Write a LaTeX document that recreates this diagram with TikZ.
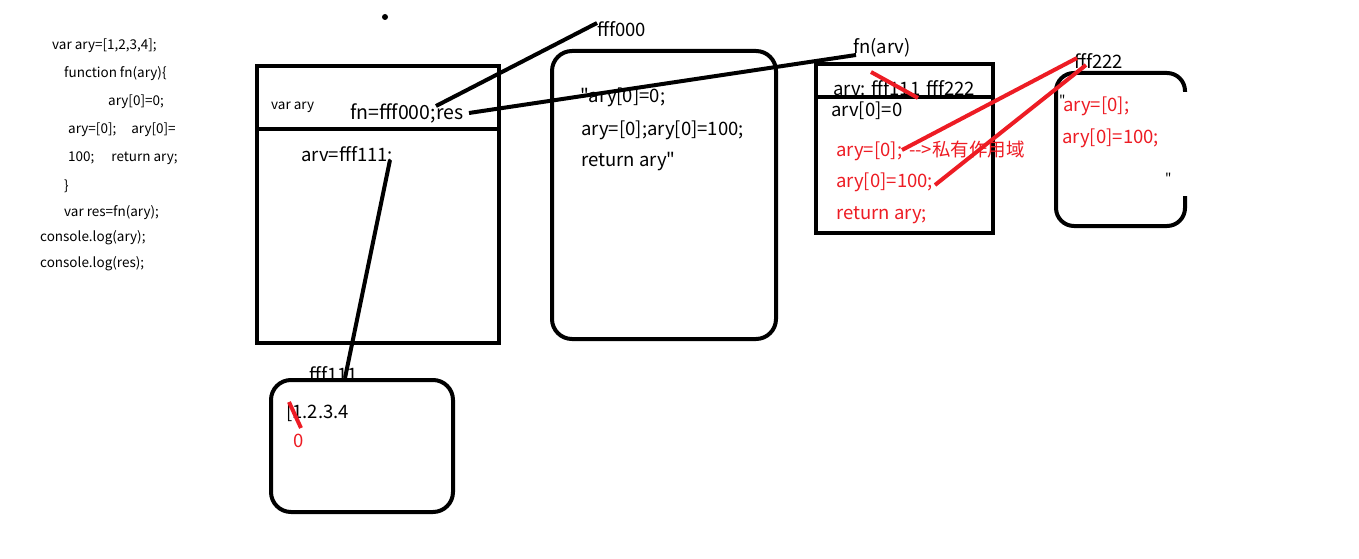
\documentclass[tikz,border=0pt]{standalone}
\usepackage{fontspec}
\setmainfont{Noto Sans CJK SC}[Ligatures=TeXOff]
\definecolor{pred}{RGB}{237,28,36}
\begin{document}
\begin{tikzpicture}[x=1pt,y=-1pt,
  code/.style={anchor=west, inner sep=0pt, font=\fontsize{13.5}{15}\selectfont},
  lbl/.style={anchor=west, inner sep=0pt, font=\fontsize{18.5}{21}\selectfont},
  rlbl/.style={lbl, text=pred},
  boxr/.style={draw, line width=4pt, inner sep=0pt},
  rbox/.style={boxr, rounded corners=20pt},
  conn/.style={line width=4pt},
  rconn/.style={line width=4pt, draw=pred}]
\useasboundingbox (0,0) rectangle (1359,559);
% code listing
\node[code] (l1) at (52,46) {var ary=[1,2,3,4];};
\node[code] (l2) at (64,74) {function fn(ary)\{};
\node[code] (l3) at (108,102) {ary[0]=0;};
\node[code] (l4) at (68,130) {ary=[0];\hspace{15pt}ary[0]=};
\node[code] (l5) at (68,158) {100;\hspace{17pt}return ary;};
\node[code] (l6) at (64,186) {\}};
\node[code] (l7) at (64,213) {var res=fn(ary);};
\node[code] (l8) at (40,238) {console.log(ary);};
\node[code] (l9) at (40,264) {console.log(res);};
% dot
\fill (385,17) circle (3pt);
% box 1
\node[boxr, minimum width=242pt, minimum height=277pt] (b1) at (378,204.5) {};
\draw[line width=4pt] (257,129) -- (499,129);
\node[code] (t1a) at (271,107) {var ary};
\node[lbl, font=\fontsize{19.5}{22}\selectfont] (t1b) at (350,113) {fn=fff000;res};
\node[lbl] (t1c) at (301,154) {arv=fff111:};
% box 2
\node[rbox, minimum width=224pt, minimum height=288pt] (b2) at (664,195) {};
\node[lbl] (t2l) at (597,29) {fff000};
\node[lbl] (t2a) at (580,97) {"ary[0]=0;};
\node[lbl] (t2b) at (581,130) {ary=[0];ary[0]=100;};
\node[lbl] (t2c) at (581,162) {return ary"};
% box 3
\node[lbl] (t3l) at (853,48) {fn(arv)};
\node[lbl] (t3a) at (833,88) {arv: fff111\hspace{6pt}fff222};
\node[boxr, minimum width=177pt, minimum height=169pt] (b3) at (904.5,148.5) {};
\draw[line width=4pt] (816,97) -- (993,97);
\node[lbl] (t3b) at (831,111) {arv[0]=0};
\node[rlbl] (t3c) at (836,151) {ary=[0];\hspace{7pt}-->私有作用域};
\node[rlbl] (t3d) at (836,182) {ary[0]=100;};
\node[rlbl] (t3e) at (836,215) {return ary;};
% box 4
\node[inner sep=0pt, minimum width=129pt, minimum height=153pt] (b4) at (1120.5,149.5) {};
\draw[line width=4pt, rounded corners=18pt] (1185,92) -- (1185,73) -- (1056,73) -- (1056,226) -- (1185,226) -- (1185,196);
\node[lbl] (t4l) at (1074,61) {fff222};
\node[rlbl] (t4a) at (1063,106) {ary=[0];};
\node[rlbl] (t4b) at (1062,138) {ary[0]=100;};
\node[code] (q1) at (1059,100) {"};
\node[code] (q2) at (1165,178) {"};
% box 5
\node[lbl] (t5l) at (309,374) {fff111};
\node[rbox, minimum width=182pt, minimum height=132pt] (b5) at (362,446) {};
\node[lbl] (t5a) at (286,413) {[1.2.3.4};
\node[rlbl] (t5b) at (293,441) {0};
% connectors
\coordinate (c1a) at (436,106);
\coordinate (c1b) at (597,23);
\coordinate (c2a) at (469,113);
\coordinate (c2b) at (856,55);
\coordinate (c3a) at (390,160);
\coordinate (c3b) at (345,378);
\draw[conn] (c1a) -- (c1b);
\draw[conn] (c2a) -- (c2b);
\draw[conn] (c3a) -- (c3b);
% red strokes
\coordinate (r1a) at (871,72);
\coordinate (r1b) at (918,98);
\coordinate (r2a) at (902,150);
\coordinate (r2b) at (1077,58);
\coordinate (r3a) at (935,185);
\coordinate (r3b) at (1086,65);
\coordinate (r4a) at (289,402);
\coordinate (r4b) at (301,428);
\draw[rconn] (r1a) -- (r1b);
\draw[rconn] (r2a) -- (r2b);
\draw[rconn] (r3a) -- (r3b);
\draw[rconn] (r4a) -- (r4b);
\end{tikzpicture}
\end{document}
